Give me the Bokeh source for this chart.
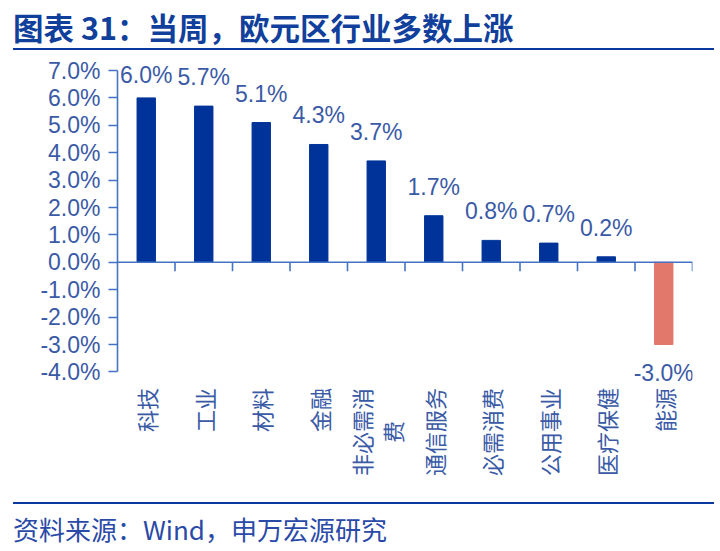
from bokeh.plotting import figure
from bokeh.models import (Div, FactorRange, Range1d, FixedTicker, PrintfTickFormatter,
                          Span, ColumnDataSource, LinearAxis)
from bokeh.layouts import column
from bokeh.embed import file_html
from bokeh.resources import INLINE
from bokeh.core.properties import value
import math

# ---------------- data ----------------
categories = ["科技", "工业", "材料", "金融", "非必需消费", "通信服务", "必需消费", "公用事业", "医疗保健", "能源"]
label_text = ["科技", "工业", "材料", "金融", "非必需消\n费", "通信服务", "必需消费", "公用事业", "医疗保健", "能源"]
weekly_change = [6.0, 5.7, 5.1, 4.3, 3.7, 1.7, 0.8, 0.7, 0.2, -3.0]
y_ticks = [-4, -3, -2, -1, 0, 1, 2, 3, 4, 5, 6, 7]
title_text = "图表 31：当周，欧元区行业多数上涨"
source_text = "资料来源：Wind，申万宏源研究"

# ---------------- styles / geometry ----------------
POS = "#003399"
NEG = "#E2776C"
AXIS = "#4472C4"
TXT = "#3a5aa6"
DARK = "#0a3aa0"
PX = 27.4            # pixels per 1 percentage point
FRAME_H = 435
FRAME_W = 575
CAT_FONT = 22
y_top = max(y_ticks) + 15 / PX
y_bottom = y_top - FRAME_H / PX
label_top = min(y_ticks) - 16 / PX
label_cap = max(y_ticks) - 4.5 / PX   # value labels are kept inside the plot area

src = ColumnDataSource(dict(
    cat=categories,
    val=weekly_change,
    color=[POS if v >= 0 else NEG for v in weekly_change],
    lab=[f"{v:.1f}%" for v in weekly_change],
    ly=[min(v + 29 / PX, label_cap) if v >= 0 else v - 28 / PX for v in weekly_change],
))

# category labels (vertical, possibly two lines)
lx, ly, lt, lxo, lyo = [], [], [], [], []
for c, t in zip(categories, label_text):
    lines = t.split("\n")
    n = len(lines)
    block = max(len(s) for s in lines) * CAT_FONT
    for j, s in enumerate(lines):
        lx.append(c)
        ly.append(label_top)
        lt.append(s)
        lxo.append((j - (n - 1) / 2) * 31)
        lyo.append(block / 2)
lab_src = ColumnDataSource(dict(x=lx, y=ly, t=lt, xo=lxo, yo=lyo))

p = figure(x_range=FactorRange(*categories), y_range=Range1d(y_bottom, y_top),
           frame_width=FRAME_W, frame_height=FRAME_H, output_backend="svg", toolbar_location=None,
           x_axis_location=None, y_axis_location=None,
           min_border_left=117, min_border_right=28, min_border_top=3, min_border_bottom=0)
p.outline_line_color = None
p.xgrid.visible = False
p.ygrid.visible = False

yaxis = LinearAxis(ticker=FixedTicker(ticks=y_ticks), formatter=PrintfTickFormatter(format="%.1f%%"),
                   bounds=(min(y_ticks), max(y_ticks)))
yaxis.axis_line_color = AXIS
yaxis.axis_line_width = 1.6
yaxis.major_tick_line_color = AXIS
yaxis.major_tick_line_width = 1.6
yaxis.major_tick_out = 9
yaxis.major_tick_in = 0
yaxis.minor_tick_line_color = None
yaxis.major_label_standoff = 8
yaxis.major_label_text_font = "Liberation Sans"
yaxis.major_label_text_font_size = "23px"
yaxis.major_label_text_color = TXT
p.add_layout(yaxis, "left")

p.vbar(x="cat", top="val", width=0.32, color="color", source=src)

# zero line with category boundary ticks
p.add_layout(Span(location=0, dimension="width", line_color=AXIS, line_width=1.6))
bounds_x = list(range(1, len(categories) + 1))
tick_len = 9 / PX
p.segment(x0=bounds_x, x1=bounds_x, y0=[0] * len(bounds_x), y1=[-tick_len] * len(bounds_x),
          line_color=AXIS, line_width=1.6)

# value labels
p.text(x="cat", y="ly", text="lab", source=src,
       text_align="center", text_baseline="middle",
       text_font=value("Liberation Sans"), text_font_size="23px", text_color=TXT)

# category labels
p.text(x="x", y="y", text="t", x_offset="xo", y_offset="yo", source=lab_src,
       angle=math.pi / 2, text_align="center", text_baseline="middle",
       text_font=value("Noto Sans CJK SC"), text_font_size=f"{CAT_FONT}px", text_color=TXT)

title_div = Div(text=(
    f'<div style="font-family:\'Noto Sans CJK SC\';font-weight:bold;font-size:30.5px;line-height:31px;'
    f'color:#113f9c;padding:12px 0 4.5px 0;margin:0 0 0 13px;width:701px;box-sizing:border-box;'
    f'border-bottom:2.5px solid {DARK};white-space:nowrap;">{title_text}</div>'),
    width=720, height=52, margin=(0, 0, 0, 0))

source_div = Div(text=(
    f'<div style="padding-top:11.5px;"><div style="font-family:\'Noto Sans CJK SC\';font-size:26px;line-height:26px;'
    f'color:#2a4aa8;padding:12.5px 0 0 0;margin:0 0 0 13px;width:701px;box-sizing:border-box;'
    f'border-top:2px solid {DARK};white-space:nowrap;">{source_text}</div></div>'),
    width=720, height=60, margin=(0, 0, 0, 0))

layout = column(title_div, p, source_div, spacing=0)
open("out.html", "w").write(file_html(layout, INLINE))
